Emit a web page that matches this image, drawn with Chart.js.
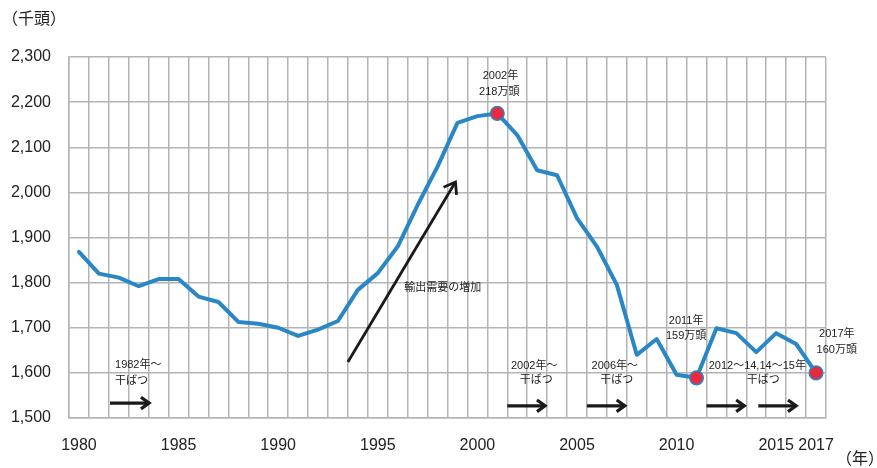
<!DOCTYPE html>
<html>
<head>
<meta charset="utf-8">
<script src="https://cdn.jsdelivr.net/npm/chart.js@4"></script>
<style>
html,body{margin:0;padding:0;background:#fff;}
#wrap{width:877px;height:468px;position:relative;}
</style>
</head>
<body>
<div id="wrap"><canvas id="c"></canvas></div>
<script>
// ---- data ----
const years = ['1980','1981','1982','1983','1984','1985','1986','1987','1988','1989',
  '1990','1991','1992','1993','1994','1995','1996','1997','1998','1999',
  '2000','2001','2002','2003','2004','2005','2006','2007','2008','2009',
  '2010','2011','2012','2013','2014','2015','2016','2017'];
const cattle = [1868,1820,1811,1792,1808,1808,1769,1757,1713,1709,
  1700,1682,1696,1715,1784,1821,1880,1972,2057,2154,
  2169,2175,2127,2049,2038,1943,1880,1795,1640,1675,
  1596,1589,1699,1688,1646,1688,1664,1600];
const shownYears = ['1980','1985','1990','1995','2000','2005','2010','2015','2017'];
const highlightYears = ['2001','2011','2017'];
const yMin = 1500, yMax = 2300, yStep = 100;

// annotation texts (anchored in category-index / value units)
const noteTexts = [
  {text:'1982年～', x:1.81, y:1617, align:'left'},
  {text:'干ばつ', x:1.81, y:1581, align:'left'},
  {text:'2002年～', x:22.85, y:1616, align:'center'},
  {text:'干ばつ', x:22.95, y:1585, align:'center'},
  {text:'2006年～', x:26.9, y:1616, align:'center'},
  {text:'干ばつ', x:27.0, y:1585, align:'center'},
  {text:'2012～14,14～15年', x:34.05, y:1616, align:'center'},
  {text:'干ばつ', x:34.35, y:1585, align:'center'},
  {text:'2002年', x:21.16, y:2257, align:'center'},
  {text:'218万頭', x:21.1, y:2222, align:'center'},
  {text:'2011年', x:30.48, y:1714, align:'center'},
  {text:'159万頭', x:30.48, y:1682, align:'center'},
  {text:'2017年', x:38.04, y:1686, align:'center'},
  {text:'160万頭', x:38.04, y:1651, align:'center'},
  {text:'輸出需要の増加', x:16.33, y:1789, align:'left'}
];
const droughtArrows = [
  {x1:1.56, x2:3.52, y:1533},
  {x1:21.5, x2:23.4, y:1527},
  {x1:25.5, x2:27.4, y:1527},
  {x1:31.5, x2:33.4, y:1527},
  {x1:34.1, x2:36.0, y:1527}
];
const trendArrow = {x1:13.5, y1:1624, x2:18.9, y2:2023};

const GRID = '#b4b4b6';
const BLUE = '#2a87c5';
const RED = '#e8293f';
const TXT = '#222222';
const FONT = '"Liberation Sans", "Noto Sans CJK JP", sans-serif';

function drawArrow(ctx, x1, y1, x2, y2, w, head) {
  const a = Math.atan2(y2 - y1, x2 - x1);
  ctx.save();
  ctx.strokeStyle = '#1a1a1a';
  ctx.lineWidth = w;
  ctx.lineCap = 'butt';
  ctx.lineJoin = 'miter';
  ctx.beginPath();
  ctx.moveTo(x1, y1);
  ctx.lineTo(x2 - Math.cos(a) * 1.5, y2 - Math.sin(a) * 1.5);
  ctx.stroke();
  ctx.beginPath();
  ctx.moveTo(x2 - head * Math.cos(a - 0.62), y2 - head * Math.sin(a - 0.62));
  ctx.lineTo(x2, y2);
  ctx.lineTo(x2 - head * Math.cos(a + 0.62), y2 - head * Math.sin(a + 0.62));
  ctx.stroke();
  ctx.restore();
}

const notesPlugin = {
  id: 'notes',
  afterDatasetsDraw(chart) {
    const ctx = chart.ctx;
    const xs = chart.scales.x, ys = chart.scales.y;
    droughtArrows.forEach(a => {
      drawArrow(ctx, xs.getPixelForValue(a.x1), ys.getPixelForValue(a.y),
        xs.getPixelForValue(a.x2), ys.getPixelForValue(a.y), 3.2, 10);
    });
    drawArrow(ctx, xs.getPixelForValue(trendArrow.x1), ys.getPixelForValue(trendArrow.y1),
      xs.getPixelForValue(trendArrow.x2), ys.getPixelForValue(trendArrow.y2), 2.8, 13);
    ctx.save();
    ctx.fillStyle = TXT;
    ctx.font = '11px ' + FONT;
    ctx.textBaseline = 'middle';
    noteTexts.forEach(t => {
      ctx.textAlign = t.align;
      ctx.fillText(t.text, xs.getPixelForValue(t.x), ys.getPixelForValue(t.y));
    });
    ctx.font = '16px ' + FONT;
    ctx.textAlign = 'left';
    ctx.fillText('（千頭）', chart.chartArea.left - 67, chart.chartArea.top - 37);
    ctx.fillText('（年）', chart.chartArea.right + 10, chart.chartArea.bottom + 42);
    ctx.restore();
  }
};

new Chart(document.getElementById('c'), {
  type: 'line',
  data: {
    labels: years,
    datasets: [{
      data: cattle,
      borderColor: BLUE,
      borderWidth: 4,
      borderJoinStyle: 'round',
      borderCapStyle: 'round',
      tension: 0,
      fill: false,
      pointRadius: years.map(y => highlightYears.includes(y) ? 6.8 : 0),
      pointHoverRadius: years.map(y => highlightYears.includes(y) ? 6.8 : 0),
      pointBackgroundColor: RED,
      pointBorderColor: BLUE,
      pointBorderWidth: 1.5
    }]
  },
  options: {
    responsive: true,
    maintainAspectRatio: false,
    animation: false,
    layout: {padding: {top: 57, right: 51, left: 0, bottom: 0}},
    plugins: {legend: {display: false}, tooltip: {enabled: false}},
    scales: {
      x: {
        type: 'category',
        offset: true,
        grid: {display: true, offset: true, color: GRID, lineWidth: 1.5, drawTicks: false},
        border: {display: true, color: GRID, width: 1.5},
        ticks: {
          autoSkip: false, maxRotation: 0, minRotation: 0, padding: 18,
          color: TXT, font: {family: FONT, size: 16},
          callback: function(v, i) { const l = years[i]; return shownYears.includes(l) ? l : ''; }
        },
        afterFit(s) { s.height = 50; }
      },
      y: {
        min: yMin, max: yMax,
        grid: {color: GRID, lineWidth: 1.5, drawTicks: false},
        border: {display: true, color: GRID, width: 1.5},
        ticks: {
          stepSize: yStep, padding: 18, color: TXT,
          font: {family: FONT, size: 16},
          callback: v => v.toLocaleString('en-US')
        },
        afterFit(s) { s.width = 69; }
      }
    }
  },
  plugins: [notesPlugin]
});
</script>
</body>
</html>
